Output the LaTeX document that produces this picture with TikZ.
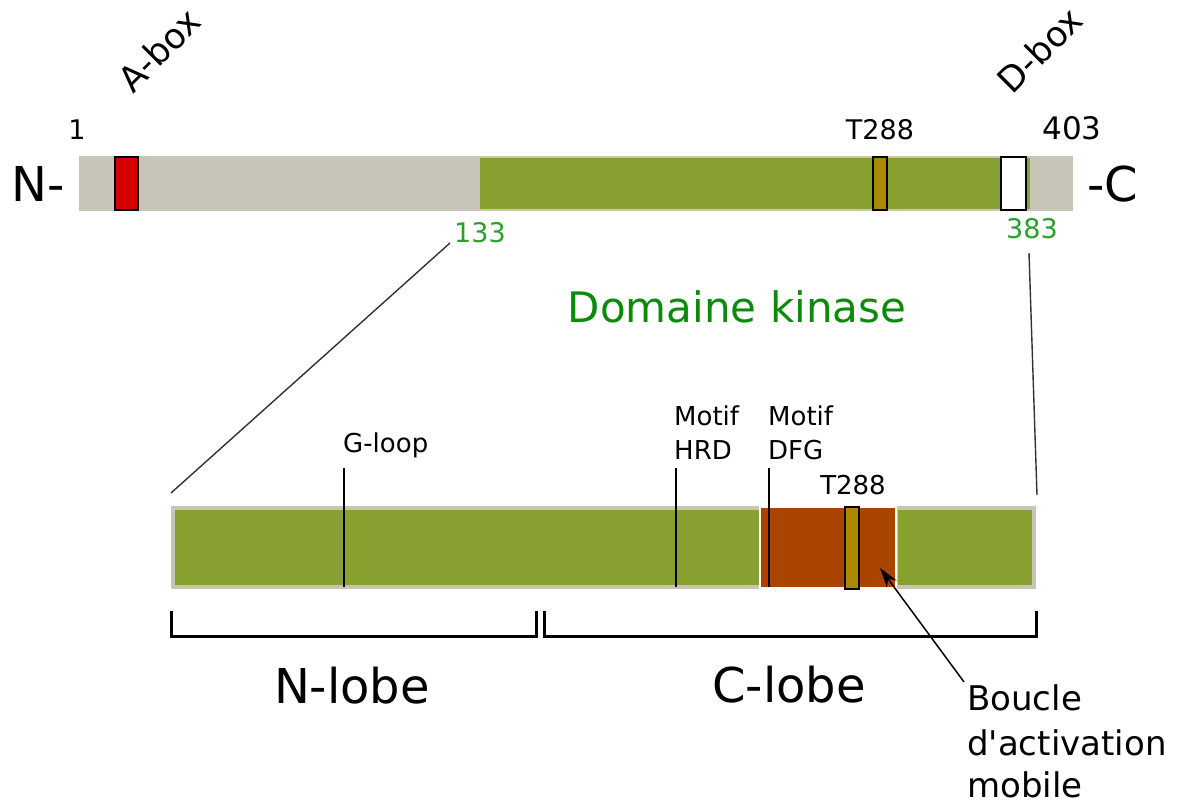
\documentclass[tikz,border=0pt]{standalone}
\usepackage{fontspec}
\setmainfont{DejaVu Sans}[Ligatures=TeXOff]
\usetikzlibrary{arrows.meta}
\definecolor{bargrey}{HTML}{C8C4B7}
\definecolor{bargreen}{HTML}{88A02F}
\definecolor{loopor}{HTML}{AA4400}
\definecolor{thrgold}{HTML}{AA8800}
\definecolor{aboxred}{HTML}{D40000}
\definecolor{titgreen}{HTML}{0B8A0B}
\definecolor{numgreen}{HTML}{2AA02A}
\tikzset{
  lbl/.style={inner sep=0pt, anchor=base, font=\fontsize{27}{32}\selectfont},
  lblw/.style={inner sep=0pt, anchor=base west, font=\fontsize{26}{32}\selectfont},
  big/.style={inner sep=0pt, anchor=base, font=\fontsize{48}{56}\selectfont},
  boxtxt/.style={inner sep=0pt, anchor=center, rotate=45, font=\fontsize{35}{40}\selectfont},
  boucle/.style={inner sep=0pt, anchor=base west, font=\fontsize{34}{42}\selectfont},
  zoomline/.style={draw=black!80, line width=1.4pt},
  marker/.style={draw=black, line width=1.5pt},
  bracket/.style={draw=black, line width=3pt},
  motifbox/.style={draw=black, line width=2.5pt},
}
\begin{document}
\begin{tikzpicture}[x=1pt,y=-1pt]
\useasboundingbox (0,0) rectangle (1179,802);
% ---------- top bar ----------
\fill[bargrey] (79,156) rectangle (1073,211);
\fill[bargreen] (480,158) rectangle (1030,209);
\filldraw[fill=aboxred, motifbox] (115,157) rectangle (138,210);
\filldraw[fill=thrgold, motifbox] (873,157) rectangle (887,210);
\filldraw[fill=white, motifbox] (1001,157) rectangle (1026,210);
% labels top
\node[boxtxt] (abox) at (159,50) {A-box};
\node[boxtxt] (dbox) at (1040,50) {D-box};
\node[lbl] (n1) at (77,140) {1};
\node[lbl] (t288a) at (880,140) {T288};
\node[lbl, font=\fontsize{31}{36}\selectfont] (n403) at (1072,140) {403};
\node[big, anchor=base west] (nterm) at (11,202) {N-};
\node[big, anchor=base west] (cterm) at (1087,202) {-C};
\node[lbl, text=numgreen] (n133) at (480,243) {133};
\node[lbl, text=numgreen] (n383) at (1032,239) {383};
\node[inner sep=0pt, anchor=base, font=\fontsize{42}{50}\selectfont, text=titgreen] (dom) at (737,323) {Domaine kinase};
% ---------- bottom bar ----------
\fill[bargrey] (171,506) rectangle (1036,589);
\fill[bargreen] (175,510) rectangle (759,585);
\fill[bargreen] (898,510) rectangle (1032,585);
\filldraw[fill=loopor, draw=white, line width=1.5pt] (760,507) rectangle (896,588);
\filldraw[fill=thrgold, motifbox] (845,507) rectangle (859,589);
% markers
\draw[marker, line width=2.5pt] (344,468) -- (344,587);
\draw[marker] (676,468) -- (676,587);
\draw[marker] (769,468) -- (769,587);
\node[lblw] (gloop) at (343,453) {G-loop};
\node[lblw] (hrd1) at (674,426) {Motif};
\node[lblw] (hrd2) at (674,460) {HRD};
\node[lblw] (dfg1) at (768,426) {Motif};
\node[lblw] (dfg2) at (768,460) {DFG};
\node[lbl, font=\fontsize{26}{32}\selectfont] (t288b) at (853,494) {T288};
% zoom lines
\coordinate (z1a) at (450,243);
\coordinate (z1b) at (171,493);
\coordinate (z2a) at (1029,253);
\coordinate (z2b) at (1037,495);
\draw[zoomline] (z1a) -- (z1b);
\draw[zoomline] (z2a) -- (z2b);
% brackets
\draw[bracket] (171,611) -- (171,636) -- (536,636) -- (536,611);
\draw[bracket] (544,611) -- (544,636) -- (1036,636) -- (1036,611);
\node[big] (nlobe) at (352,703) {N-lobe};
\node[big] (clobe) at (789,702) {C-lobe};
% boucle
\node[boucle] (b1) at (967,710) {Boucle};
\node[boucle] (b2) at (967,755) {d'activation};
\node[boucle] (b3) at (967,797) {mobile};
\coordinate (tip) at (880,568);
\draw[line width=1.5pt, -{Stealth[length=20pt,width=12pt]}] ([xshift=-3pt,yshift=2pt]b1.north west) -- (tip);
\end{tikzpicture}
\end{document}
